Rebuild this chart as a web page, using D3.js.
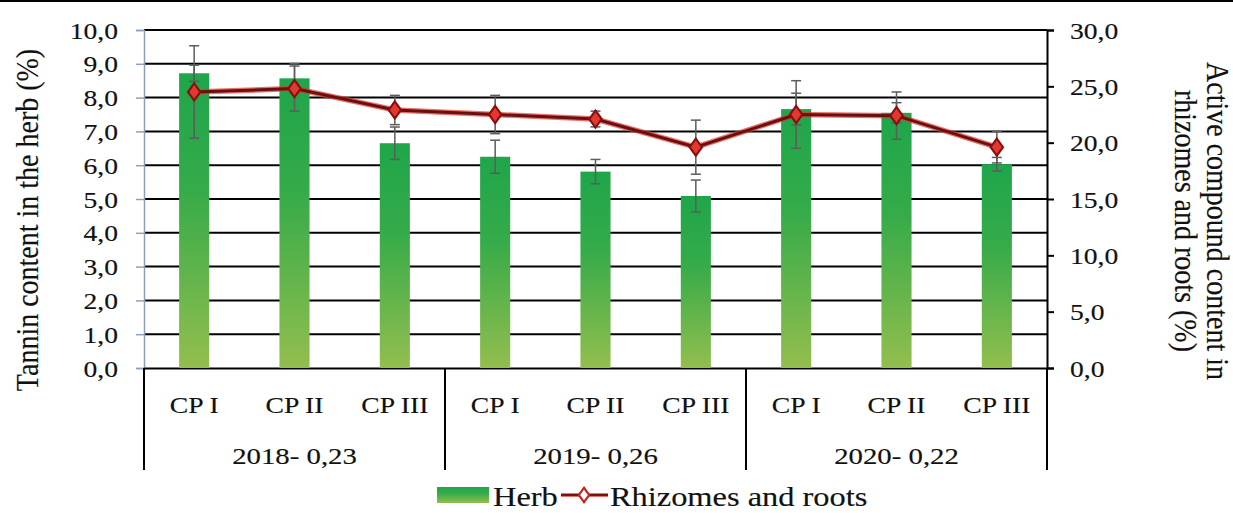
<!DOCTYPE html>
<html>
<head>
<meta charset="utf-8">
<script src="https://cdn.jsdelivr.net/npm/d3@7/dist/d3.min.js"></script>
<style>
  html, body { margin: 0; padding: 0; background: #fff; }
  svg { display: block; }
  text { font-family: "Liberation Serif", "Times New Roman", serif; fill: #111; stroke: #111; stroke-width: 0.15px; }
</style>
</head>
<body>
<svg id="chart" width="1233" height="513"></svg>
<script>
// ---------------- data ----------------
const categories = ["CP I", "CP II", "CP III", "CP I", "CP II", "CP III", "CP I", "CP II", "CP III"];
const groups = ["2018- 0,23", "2019- 0,26", "2020- 0,22"];
const herb = [8.72, 8.57, 6.65, 6.25, 5.81, 5.09, 7.66, 7.55, 6.03];
const herbErr = [0.24, 0.44, 0.48, 0.49, 0.36, 0.47, 0.47, 0.30, 0.20];
const roots = [24.5, 24.8, 22.9, 22.5, 22.1, 19.6, 22.5, 22.4, 19.6];
const rootsErr = [4.1, 2.0, 1.3, 1.7, 0.7, 2.4, 3.0, 2.1, 1.4];
const leftTicks = [0, 1, 2, 3, 4, 5, 6, 7, 8, 9, 10];
const rightTicks = [0, 5, 10, 15, 20, 25, 30];
const leftTitle = "Tannin content in the herb (%)";
const rightTitle = ["Active compound content in", "rhizomes and roots (%)"];
const legendLabels = ["Herb", "Rhizomes and roots"];

// ---------------- layout ----------------
const W = 1233, H = 513;
const X0 = 144, X1 = 1047, Y0 = 368, Y1 = 30;
const SX = 1.2; // horizontal stretch of text in the reference
const fmt = v => d3.format(".1f")(v).replace(".", ",");

const svg = d3.select("#chart");

const x = d3.scaleBand().domain(d3.range(categories.length)).range([X0, X1])
  .paddingInner(0.7).paddingOuter(0.35);
const yL = d3.scaleLinear().domain([0, 10]).range([Y0, Y1]);
const yR = d3.scaleLinear().domain([0, 30]).range([Y0, Y1]);
const step = x.step();
const cx = i => x(i) + x.bandwidth() / 2;

function stretch(sel) {
  sel.each(function () {
    const t = d3.select(this);
    const tx = +t.attr("x") || 0, ty = +t.attr("y") || 0;
    t.attr("x", 0).attr("y", 0).attr("transform", `translate(${tx},${ty}) scale(${SX},1)`);
  });
}

// top rule
svg.append("line").attr("x1", 0).attr("x2", W).attr("y1", 1).attr("y2", 1)
  .attr("stroke", "#000").attr("stroke-width", 2);

// gradient
const defs = svg.append("defs");
const grad = defs.append("linearGradient").attr("id", "barGrad")
  .attr("x1", 0).attr("y1", 0).attr("x2", 0).attr("y2", 1);
grad.append("stop").attr("offset", "0%").attr("stop-color", "#1ea64b");
grad.append("stop").attr("offset", "40%").attr("stop-color", "#36ab49");
grad.append("stop").attr("offset", "100%").attr("stop-color", "#93be4e");

// gridlines
svg.append("g").selectAll("line").data(leftTicks.filter(d => d > 0)).join("line")
  .attr("x1", X0).attr("x2", X1).attr("y1", d => yL(d)).attr("y2", d => yL(d))
  .attr("stroke", "#000").attr("stroke-width", 2);

// left axis
const gL = svg.append("g").attr("transform", `translate(${X0},0)`)
  .call(d3.axisLeft(yL).tickValues(leftTicks).tickFormat(fmt).tickSize(8).tickPadding(18));
gL.select(".domain").attr("stroke", "#8da0b8").attr("stroke-width", 1.5);
gL.selectAll(".tick line").attr("stroke", "#8da0b8").attr("stroke-width", 1.5);
gL.selectAll(".tick text").attr("font-size", 23).attr("font-family", null).attr("dy", "0.35em");
stretch(gL.selectAll(".tick text"));

// right axis
const gR = svg.append("g").attr("transform", `translate(${X1},0)`)
  .call(d3.axisRight(yR).tickValues(rightTicks).tickFormat(fmt).tickSize(7).tickPadding(16));
gR.select(".domain").attr("stroke", "#000").attr("stroke-width", 2);
gR.selectAll(".tick line").attr("stroke", "#000").attr("stroke-width", 2);
gR.selectAll(".tick text").attr("font-size", 23).attr("font-family", null).attr("dy", "0.35em");
stretch(gR.selectAll(".tick text"));

// bottom category axis
const gB = svg.append("g").attr("transform", `translate(0,${Y0})`)
  .call(d3.axisBottom(x).tickFormat(i => categories[i]).tickSize(0).tickPadding(37));
gB.select(".domain").attr("stroke", "#000").attr("stroke-width", 2);
gB.selectAll(".tick text").attr("font-size", 23).attr("font-family", null).attr("dy", "0.35em");
stretch(gB.selectAll(".tick text"));

// group separators and labels
const sepIdx = [0, 3, 6, 9];
svg.append("g").selectAll("line").data(sepIdx).join("line")
  .attr("x1", i => X0 + i * step).attr("x2", i => X0 + i * step)
  .attr("y1", Y0).attr("y2", 470).attr("stroke", "#000").attr("stroke-width", 2);
svg.append("g").selectAll("text").data(groups).join("text")
  .attr("x", (d, g) => cx(g * 3 + 1)).attr("y", 456).attr("dy", "0.35em")
  .attr("text-anchor", "middle").attr("font-size", 24).text(d => d)
  .call(stretch);

// bars
svg.append("g").selectAll("rect").data(herb).join("rect")
  .attr("x", (d, i) => x(i)).attr("width", x.bandwidth())
  .attr("y", d => yL(d)).attr("height", d => Y0 - yL(d))
  .attr("fill", "url(#barGrad)");

// error bars helper
function errBars(vals, errs, scale) {
  const g = svg.append("g").attr("stroke", "#5c5c5c").attr("stroke-width", 1.5).attr("fill", "none");
  vals.forEach((v, i) => {
    const c = cx(i), hi = scale(v + errs[i]), lo = scale(v - errs[i]);
    g.append("line").attr("x1", c).attr("x2", c).attr("y1", hi).attr("y2", lo);
    g.append("line").attr("x1", c - 5).attr("x2", c + 5).attr("y1", hi).attr("y2", hi);
    g.append("line").attr("x1", c - 5).attr("x2", c + 5).attr("y1", lo).attr("y2", lo);
  });
}
errBars(herb, herbErr, yL);
errBars(roots, rootsErr, yR);

// line
const line = d3.line().x((d, i) => cx(i)).y(d => yR(d));
svg.append("path").datum(roots).attr("d", line).attr("fill", "none")
  .attr("stroke", "#e0342c").attr("stroke-width", 5.5).attr("stroke-opacity", 0.7);
svg.append("path").datum(roots).attr("d", line).attr("fill", "none")
  .attr("stroke", "#6a0f0f").attr("stroke-width", 3);

// markers
const diamond = d3.symbol().type(d3.symbolDiamond).size(85);
svg.append("g").selectAll("path").data(roots).join("path")
  .attr("d", diamond)
  .attr("transform", (d, i) => `translate(${cx(i)},${yR(d)}) scale(1.25,1)`)
  .attr("fill", "#e2382e").attr("stroke", "#870f0f").attr("stroke-width", 1.8);

// axis titles (rotated)
const TS = 1.1;
svg.append("text").attr("transform", `translate(38,220) scale(${TS},1) rotate(-90)`)
  .attr("text-anchor", "middle").attr("font-size", 28).text(leftTitle);
svg.append("g").selectAll("text").data(rightTitle).join("text")
  .attr("transform", (d, i) => `translate(${i === 0 ? 1207 : 1175},221) scale(${TS},1) rotate(90)`)
  .attr("text-anchor", "middle").attr("font-size", 28).text(d => d);

// legend
const lg = svg.append("g");
lg.append("rect").attr("x", 437).attr("y", 487).attr("width", 52).attr("height", 16)
  .attr("fill", "url(#barGrad)");
lg.append("text").attr("x", 493).attr("y", 506).attr("font-size", 27).text(legendLabels[0]).call(stretch);
lg.append("line").attr("x1", 561).attr("x2", 608).attr("y1", 495).attr("y2", 495)
  .attr("stroke", "#e0342c").attr("stroke-width", 4).attr("stroke-opacity", 0.7);
lg.append("line").attr("x1", 561).attr("x2", 608).attr("y1", 495).attr("y2", 495)
  .attr("stroke", "#7a1212").attr("stroke-width", 2);
lg.append("path").attr("d", d3.symbol().type(d3.symbolDiamond).size(60))
  .attr("transform", "translate(584,495) scale(1.25,1)")
  .attr("fill", "#fff").attr("stroke", "#c0221c").attr("stroke-width", 1.8);
lg.append("text").attr("x", 610).attr("y", 506).attr("font-size", 27).text(legendLabels[1]).call(stretch);
</script>
</body>
</html>
